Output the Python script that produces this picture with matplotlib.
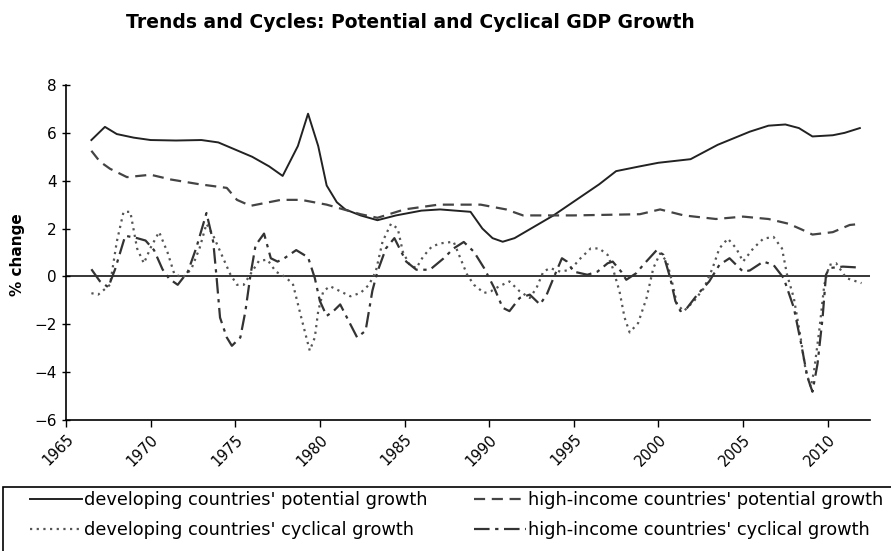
import matplotlib
matplotlib.use("Agg")
import matplotlib.pyplot as plt
from matplotlib.patches import Rectangle

# ---------------- data ----------------
dev_pot_years = [1966.5, 1967.3, 1968.0, 1969.0, 1970.0, 1971.5, 1973.0, 1974.0, 1975.0, 1976.0,
                 1977.0, 1977.8, 1978.7, 1979.3, 1979.9, 1980.4, 1981.0, 1981.5, 1982.4, 1983.4,
                 1984.5, 1986.0, 1987.1, 1988.9, 1989.6, 1990.2, 1990.8, 1991.5, 1993.8, 1996.5,
                 1997.5, 1998.9, 2000.0, 2001.9, 2003.5, 2005.4, 2006.5, 2007.5, 2008.3, 2009.1,
                 2010.3, 2011.0, 2011.9]
dev_pot = [5.7, 6.25, 5.95, 5.8, 5.7, 5.68, 5.7, 5.6, 5.3, 5.0,
           4.6, 4.2, 5.45, 6.8, 5.45, 3.8, 3.1, 2.8, 2.55, 2.35,
           2.55, 2.75, 2.8, 2.7, 2.0, 1.6, 1.45, 1.6, 2.55, 3.85,
           4.4, 4.6, 4.75, 4.9, 5.5, 6.05, 6.3, 6.35, 6.2, 5.85,
           5.9, 6.0, 6.2]

hi_pot_years = [1966.5, 1967.0, 1967.6, 1968.6, 1970.0, 1971.2, 1972.9, 1974.5, 1975.1, 1975.9,
                1977.7, 1978.9, 1980.4, 1982.4, 1983.4, 1985.0, 1987.0, 1989.5, 1991.0, 1992.0,
                1995.0, 1998.9, 2000.1, 2001.5, 2003.4, 2005.0, 2006.5, 2007.7, 2008.5, 2009.1,
                2010.3, 2011.3, 2012.0]
hi_pot = [5.25, 4.8, 4.5, 4.15, 4.25, 4.05, 3.85, 3.7, 3.2, 2.95,
          3.2, 3.2, 3.0, 2.6, 2.45, 2.8, 3.0, 3.0, 2.8, 2.55,
          2.55, 2.6, 2.8, 2.55, 2.4, 2.5, 2.4, 2.2, 1.95, 1.75,
          1.85, 2.15, 2.2]

dev_cyc_years = [1966.5, 1966.9, 1967.6, 1968.0, 1968.4, 1968.8, 1969.2, 1969.6, 1970.0, 1970.5,
                 1971.0, 1971.4, 1971.9, 1972.4, 1972.9, 1973.3, 1973.7, 1974.2, 1974.7, 1975.1,
                 1975.5, 1975.9, 1976.4, 1976.9, 1977.4, 1977.9, 1978.4, 1978.9, 1979.2, 1979.4,
                 1979.7, 1979.9, 1980.2, 1980.6, 1981.2, 1981.8, 1982.4, 1982.9, 1983.3, 1983.7,
                 1984.2, 1984.6, 1984.9, 1985.3, 1985.7, 1986.1, 1986.6, 1987.1, 1987.9, 1988.3,
                 1988.7, 1989.1, 1989.7, 1990.1, 1990.6, 1991.2, 1991.8, 1992.4, 1992.8, 1993.2,
                 1993.6, 1994.2, 1994.8, 1995.4, 1996.0, 1996.5, 1997.0, 1997.3, 1997.7, 1998.0,
                 1998.3, 1998.8, 1999.3, 1999.7, 2000.1, 2000.5, 2000.8, 2001.1, 2001.5, 2002.1,
                 2002.7, 2003.2, 2003.6, 2004.1, 2004.6, 2005.0, 2005.6, 2006.2, 2006.8, 2007.3,
                 2007.6, 2008.0, 2008.4, 2008.7, 2009.0, 2009.2, 2009.5, 2009.8, 2010.1, 2010.5,
                 2011.1, 2012.0]
dev_cyc = [-0.7, -0.76, -0.35, 1.45, 2.7, 2.7, 1.17, 0.55, 1.2, 1.86,
           1.0, 0.1, -0.05, 0.3, 1.2, 2.2, 1.7, 0.9, 0.1, -0.35,
           -0.35, 0.1, 0.65, 0.7, 0.2, 0.0, -0.3, -1.72, -2.55, -3.1,
           -2.55, -1.45, -0.62, -0.41, -0.62, -0.83, -0.69, -0.35, 0.2, 1.45,
           2.2, 2.0, 1.03, 0.48, 0.35, 0.83, 1.24, 1.38, 1.45, 0.76,
           0.07, -0.35, -0.69, -0.62, -0.41, -0.21, -0.62, -0.9, -0.48, 0.2,
           0.35, 0.2, 0.28, 0.76, 1.17, 1.17, 0.9, 0.35, -0.62, -1.72,
           -2.34, -1.95, -0.9, 0.35, 0.96, 0.62, -0.21, -1.17, -1.45, -1.03,
           -0.48, 0.35, 1.17, 1.58, 1.17, 0.62, 1.17, 1.58, 1.65, 1.17,
           0.07, -0.9, -2.55, -3.93, -4.62, -3.93, -2.27, -0.35, 0.48, 0.55,
           -0.07, -0.28]

hi_cyc_years = [1966.5, 1967.0, 1967.5, 1967.9, 1968.5, 1969.2, 1969.7, 1970.2, 1970.7, 1971.1,
                1971.6, 1972.2, 1972.7, 1973.3, 1973.7, 1973.9, 1974.1, 1974.5, 1974.8, 1975.3,
                1975.6, 1975.9, 1976.2, 1976.7, 1977.1, 1977.5, 1977.9, 1978.6, 1979.3, 1979.7,
                1980.0, 1980.4, 1980.8, 1981.2, 1981.8, 1982.2, 1982.7, 1983.1, 1983.4, 1983.9,
                1984.4, 1985.1, 1985.7, 1986.5, 1987.3, 1987.9, 1988.5, 1989.1, 1989.7, 1990.3,
                1990.8, 1991.2, 1991.8, 1992.4, 1993.0, 1993.4, 1993.8, 1994.3, 1994.6, 1995.0,
                1995.8, 1996.4, 1997.0, 1997.3, 1997.8, 1998.1, 1998.7, 1999.1, 1999.9, 2000.3,
                2000.7, 2001.0, 2001.3, 2001.7, 2002.3, 2003.0, 2003.6, 2004.2, 2005.0, 2005.4,
                2006.2, 2006.8, 2007.4, 2008.0, 2008.4, 2008.8, 2009.1, 2009.4, 2009.7, 2009.9,
                2010.1, 2010.9, 2011.9]
hi_cyc = [0.3, -0.2, -0.45, 0.3, 1.7, 1.6, 1.5, 1.1, 0.3, -0.1,
          -0.35, 0.2, 1.2, 2.65, 1.44, -0.07, -1.72, -2.55, -2.9, -2.55,
          -1.45, 0.07, 1.3, 1.79, 0.76, 0.62, 0.76, 1.1, 0.8, -0.07,
          -1.03, -1.65, -1.45, -1.17, -2.0, -2.55, -2.27, -0.6, 0.2, 1.17,
          1.6, 0.62, 0.28, 0.28, 0.75, 1.17, 1.44, 1.03, 0.35, -0.48,
          -1.31, -1.45, -0.9, -0.76, -1.17, -0.76, -0.07, 0.76, 0.62, 0.2,
          0.07, 0.2, 0.55, 0.62, 0.2, -0.14, 0.14, 0.48, 1.1, 0.9,
          -0.07, -1.03, -1.45, -1.31, -0.76, -0.21, 0.48, 0.76, 0.2, 0.25,
          0.62, 0.48, -0.07, -1.31, -2.7, -4.2, -4.82, -3.65, -1.72, 0.07,
          0.35, 0.41, 0.37]

x_ticks = [1965, 1970, 1975, 1980, 1985, 1990, 1995, 2000, 2005, 2010]
y_ticks = [-6, -4, -2, 0, 2, 4, 6, 8]

labels = ["developing countries' potential growth",
          "high-income countries' potential growth",
          "developing countries' cyclical growth",
          "high-income countries' cyclical growth"]

title = "Trends and Cycles: Potential and Cyclical GDP Growth"

# ---------------- figure ----------------
plt.rcParams['font.family'] = ['DejaVu Sans']
fig = plt.figure(figsize=(8.91, 5.51), dpi=100)
ax = fig.add_axes([66/891, 1-420/551, (870-66)/891, (420-85)/551])

l1, = ax.plot(dev_pot_years, dev_pot, color='#222222', lw=1.4, ls='-')
l2, = ax.plot(hi_pot_years, hi_pot, color='#444444', lw=1.6, ls=(0, (5, 3)))
l3, = ax.plot(dev_cyc_years, dev_cyc, color='#555555', lw=1.6, ls=(0, (1, 2)))
l4, = ax.plot(hi_cyc_years, hi_cyc, color='#333333', lw=1.6, ls=(0, (7, 2.5, 1.5, 2.5)))

ax.axhline(0, color='black', lw=1.1, zorder=1)

ax.set_xlim(1965, 2012.5)
ax.set_ylim(-6, 8)
ax.set_xticks(x_ticks)
ax.set_xticklabels([str(y) for y in x_ticks], rotation=45, ha='right',
                   rotation_mode='anchor', fontsize=10.5)
ax.set_yticks(y_ticks)
ax.set_yticklabels([str(v).replace('-', '\u2212') for v in y_ticks], fontsize=11)
ax.tick_params(axis='y', direction='inout', length=6, width=1)
ax.tick_params(axis='x', direction='out', length=5, width=1)
for s in ['top', 'right']:
    ax.spines[s].set_visible(False)
for s in ['left', 'bottom']:
    ax.spines[s].set_linewidth(1.2)

fig.text(410/891, 1-22/551, title, ha='center', va='center',
         fontsize=13.5, fontweight='bold')
fig.text(18/891, 1-255/551, '% change', rotation=90, ha='center', va='center',
         fontsize=11, fontweight='bold')

# legend frame (bottom edge runs off the figure as in the reference)
fig.patches.append(Rectangle((3/891, -0.05), 1.0, 0.05 + (551-487)/551,
                             transform=fig.transFigure, fill=False,
                             edgecolor='black', linewidth=1.2))

leg = fig.legend([l1, l3, l2, l4],
                 [labels[0], labels[2], labels[1], labels[3]],
                 ncol=2, loc='upper left',
                 bbox_to_anchor=(30/891, 1-491/551),
                 frameon=False, fontsize=12.8, handlelength=2.9, handletextpad=0.15,
                 borderpad=0, labelspacing=0.7, borderaxespad=0, columnspacing=2.6)

fig.savefig('out.png', dpi=100)
